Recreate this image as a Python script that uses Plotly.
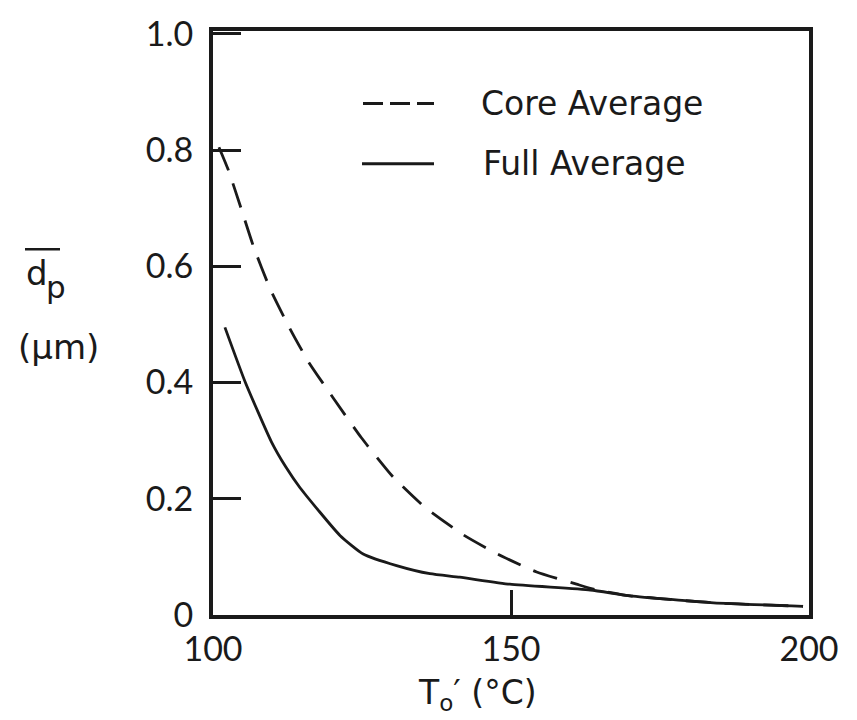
import plotly.graph_objects as go

# ---- data ----
t_core = [101.0, 102.6, 104.8, 106.8, 109.6, 112.9, 116.0, 120.2, 124.9, 130.0,
          135.6, 142.0, 147.9, 154.3, 161.0, 164.0, 170.0, 184.0, 199.0]
d_core = [0.805, 0.765, 0.697, 0.634, 0.561, 0.493, 0.436, 0.373, 0.305, 0.240,
          0.185, 0.138, 0.104, 0.074, 0.053, 0.044, 0.033, 0.021, 0.015]

t_full = [102.0, 105.4, 109.8, 112.2, 114.6, 121.3, 125.2, 130.8, 136.4, 141.4,
          149.8, 163.3, 170.0, 184.0, 199.0]
d_full = [0.495, 0.401, 0.298, 0.255, 0.219, 0.137, 0.105, 0.085, 0.071, 0.065,
          0.053, 0.043, 0.033, 0.021, 0.015]

x_ticks = [100, 150, 200]
x_ticktext = ["100", "150", "200"]
y_ticks = [0, 0.2, 0.4, 0.6, 0.8, 1.0]
y_ticktext = ["0", "0.2", "0.4", "0.6", "0.8", "1.0"]
series_names = ["Core Average", "Full Average"]

# ---- layout geometry (pixels) ----
W, H = 857, 720
L, R, T, B = 213, 809, 26, 615
TICKFONT = "Lato"
TEXTFONT = "DejaVu Sans"
INK = "#1a1a1a"


def px(x):
    return (x - L) / (R - L)


def py(y):
    return (B - y) / (B - T)


fig = go.Figure()
fig.add_trace(go.Scatter(x=t_core, y=d_core, mode="lines", name=series_names[0],
                         line=dict(color=INK, width=2.8, dash="25px,14px", shape="spline", smoothing=0.5),
                         showlegend=False))
fig.add_trace(go.Scatter(x=t_full, y=d_full, mode="lines", name=series_names[1],
                         line=dict(color=INK, width=2.8, shape="spline", smoothing=0.5),
                         showlegend=False))

axis_common = dict(showline=True, linecolor=INK, linewidth=4, mirror=True,
                   ticks="inside", tickcolor=INK, tickwidth=2.5,
                   showgrid=False, zeroline=False,
                   tickfont=dict(family=TICKFONT, size=34, color=INK))

fig.update_xaxes(range=[100, 200], tickvals=x_ticks, ticktext=x_ticktext,
                 ticklen=25, ticklabelstandoff=1, **axis_common)
fig.update_yaxes(range=[0, 1.005], tickvals=y_ticks, ticktext=y_ticktext,
                 ticklen=28, ticklabelstandoff=9, **axis_common)

shapes = [
    # legend samples
    dict(type="line", xref="paper", yref="paper", x0=px(363), x1=px(434), y0=py(99), y1=py(99),
         line=dict(color=INK, width=3, dash="20px,7px")),
    dict(type="line", xref="paper", yref="paper", x0=px(362), x1=px(434), y0=py(160), y1=py(160),
         line=dict(color=INK, width=3)),
    # overline of d_p
    dict(type="line", xref="paper", yref="paper", x0=px(25), x1=px(60), y0=py(246), y1=py(246),
         line=dict(color=INK, width=2.5)),
]

annotations = [
    dict(text=series_names[0], xref="paper", yref="paper", x=px(479), y=py(99),
         xanchor="left", yanchor="middle", showarrow=False,
         font=dict(family=TEXTFONT, size=33, color=INK)),
    dict(text=series_names[1], xref="paper", yref="paper", x=px(481), y=py(160),
         xanchor="left", yanchor="middle", showarrow=False,
         font=dict(family=TEXTFONT, size=33, color=INK)),
    dict(text="d", xref="paper", yref="paper", x=px(37), y=py(270),
         xanchor="center", yanchor="middle", showarrow=False,
         font=dict(family=TEXTFONT, size=34, color=INK)),
    dict(text="p", xref="paper", yref="paper", x=px(56), y=py(284),
         xanchor="center", yanchor="middle", showarrow=False,
         font=dict(family=TEXTFONT, size=31, color=INK)),
    dict(text="(μm)", xref="paper", yref="paper", x=px(58), y=py(345),
         xanchor="center", yanchor="middle", showarrow=False,
         font=dict(family=TEXTFONT, size=34, color=INK)),
    dict(text="T<sub>o</sub>′ (°C)", xref="paper", yref="paper", x=px(477), y=py(695),
         xanchor="center", yanchor="middle", showarrow=False,
         font=dict(family=TEXTFONT, size=33, color=INK)),
]

fig.update_layout(width=W, height=H,
                  margin=dict(l=L, r=W - R, t=T, b=H - B, pad=0),
                  paper_bgcolor="white", plot_bgcolor="white",
                  shapes=shapes, annotations=annotations)

fig.write_html("out.html")
